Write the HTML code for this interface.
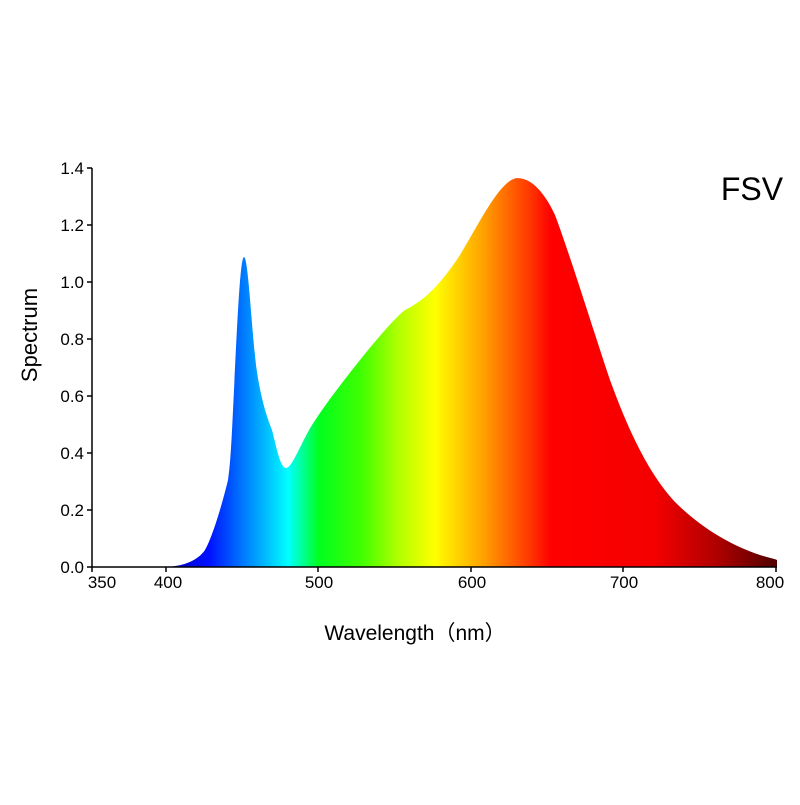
<!DOCTYPE html>
<html><head><meta charset="utf-8"><style>body{margin:0;background:#fff}</style></head><body>
<svg width="800" height="800" xmlns="http://www.w3.org/2000/svg" style="font-family:'Liberation Sans','Noto Sans CJK SC',sans-serif">
<defs>
<linearGradient id="g" gradientUnits="userSpaceOnUse" x1="166" y1="0" x2="777" y2="0">
<stop offset="0" stop-color="#0000c0"/>
<stop offset="0.07" stop-color="#0010ff"/>
<stop offset="0.13" stop-color="#0080ff"/>
<stop offset="0.2" stop-color="#00ffff"/>
<stop offset="0.25" stop-color="#00ff20"/>
<stop offset="0.32" stop-color="#40ff00"/>
<stop offset="0.38" stop-color="#b0ff00"/>
<stop offset="0.44" stop-color="#ffff00"/>
<stop offset="0.52" stop-color="#ffa000"/>
<stop offset="0.6" stop-color="#ff3000"/>
<stop offset="0.63" stop-color="#ff0000"/>
<stop offset="0.8" stop-color="#f40000"/>
<stop offset="0.9" stop-color="#b00000"/>
<stop offset="1" stop-color="#500000"/>
</linearGradient>
</defs>
<path fill="url(#g)" d="M166,567 C185,566 198,560 205,550 C212,538 222,505 228,480 C231,460 232,430 234,390 C237,330 240,257 244,257 C248,257 251,320 256,365 C260,395 266,415 272,430 C276,445 280,468 286,468 C292,468 300,445 312,425 C325,405 340,385 360,360 C380,335 395,318 405,310 C425,300 440,285 460,255 C480,222 500,180 517,178 C535,178 548,200 555,215 C570,255 590,320 610,380 C630,435 650,475 675,502 C700,527 730,545 760,555 C770,558 775,559 777,560 L777,567 Z"/>
<g stroke="#000" stroke-width="1.5" fill="none">
<path d="M92,168 V567 H777"/>
<path d="M87,168 H92 M87,225 H92 M87,282 H92 M87,339 H92 M87,396 H92 M87,453 H92 M87,510 H92 M87,567 H92"/>
<path d="M92,567 V572 M166,567 V572 M318,567 V572 M471,567 V572 M623,567 V572 M776,567 V572"/>
</g>
<g font-size="17" text-anchor="end" fill="#000">
<text x="84" y="174">1.4</text><text x="84" y="231">1.2</text><text x="84" y="288">1.0</text><text x="84" y="345">0.8</text><text x="84" y="402">0.6</text><text x="84" y="459">0.4</text><text x="84" y="516">0.2</text><text x="84" y="573">0.0</text>
</g>
<g font-size="17" text-anchor="middle" fill="#000">
<text x="102" y="588">350</text><text x="168" y="588">400</text><text x="319" y="588">500</text><text x="472" y="588">600</text><text x="624" y="588">700</text><text x="770" y="588">800</text>
</g>
<text x="415" y="640" font-size="21" text-anchor="middle">Wavelength（nm）</text>
<text transform="translate(37,335) rotate(-90)" font-size="22" text-anchor="middle">Spectrum</text>
<text x="752" y="200" font-size="32" text-anchor="middle">FSV</text>
</svg>
</body></html>
